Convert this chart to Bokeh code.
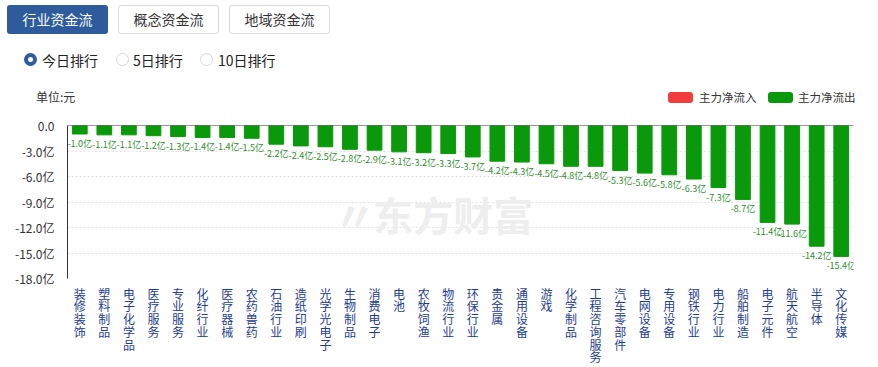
from bokeh.plotting import figure
from bokeh.models import Div, Range1d, FixedTicker, Span, Label, ColumnDataSource
from bokeh.layouts import column
from bokeh.embed import file_html
from bokeh.resources import INLINE
from bokeh.core.properties import value

# ---- data ----
industries = ["装修装饰", "塑料制品", "电子化学品", "医疗服务", "专业服务", "化纤行业",
              "医疗器械", "农药兽药", "石油行业", "造纸印刷", "光学光电子", "生物制品",
              "消费电子", "电池", "农牧饲渔", "物流行业", "环保行业", "贵金属",
              "通用设备", "游戏", "化学制品", "工程咨询服务", "汽车零部件", "电网设备",
              "专用设备", "钢铁行业", "电力行业", "船舶制造", "电子元件", "航天航空",
              "半导体", "文化传媒"]
net_flow_yi = [-1.0, -1.1, -1.1, -1.2, -1.3, -1.4, -1.4, -1.5, -2.2, -2.4, -2.5, -2.8,
               -2.9, -3.1, -3.2, -3.3, -3.7, -4.2, -4.3, -4.5, -4.8, -4.8, -5.3, -5.6,
               -5.8, -6.3, -7.3, -8.7, -11.4, -11.6, -14.2, -15.4]
y_ticks = [0, -3, -6, -9, -12, -15, -18]

FONT = "Noto Sans CJK SC"
GREEN = "#0a990a"
RED = "#f23d3d"
BLUE = "#2d5b9b"

# ---- header (tabs, radios, unit, legend) ----
tab = "position:absolute;top:5px;width:101px;height:29px;box-sizing:border-box;border-radius:3px;font-size:14px;text-align:center;"
header_html = f"""
<div style="position:relative;width:870px;height:112px;font-family:'{FONT}',sans-serif;">
  <div style="{tab}left:7px;background:{BLUE};color:#fff;line-height:29px;">行业资金流</div>
  <div style="{tab}left:118px;border:1px solid #d5d8de;color:#333;line-height:27px;">概念资金流</div>
  <div style="{tab}left:229px;border:1px solid #d5d8de;color:#333;line-height:27px;">地域资金流</div>

  <div style="position:absolute;left:24px;top:53px;width:13px;height:13px;box-sizing:border-box;border:4px solid {BLUE};border-radius:50%;background:#fff;"></div>
  <div style="position:absolute;left:42px;top:50px;font-size:14px;line-height:20px;color:#222;">今日排行</div>
  <div style="position:absolute;left:116px;top:53px;width:13px;height:13px;box-sizing:border-box;border:1px solid #d9d9d9;border-radius:50%;background:#fff;"></div>
  <div style="position:absolute;left:133px;top:50px;font-size:14px;line-height:20px;color:#222;">5日排行</div>
  <div style="position:absolute;left:200px;top:53px;width:13px;height:13px;box-sizing:border-box;border:1px solid #d9d9d9;border-radius:50%;background:#fff;"></div>
  <div style="position:absolute;left:218px;top:50px;font-size:14px;line-height:20px;color:#222;">10日排行</div>

  <div style="position:absolute;left:36px;top:89px;font-size:12px;line-height:16px;color:#333;">单位:元</div>

  <div style="position:absolute;left:668px;top:92px;width:25px;height:11px;background:{RED};border-radius:3px;"></div>
  <div style="position:absolute;left:699px;top:89px;font-size:11.5px;line-height:16px;color:#333;">主力净流入</div>
  <div style="position:absolute;left:768px;top:92px;width:25px;height:11px;background:{GREEN};border-radius:3px;"></div>
  <div style="position:absolute;left:798px;top:89px;font-size:11.5px;line-height:16px;color:#333;">主力净流出</div>
</div>
"""
header = Div(text=header_html, width=870, height=112, margin=(0, 0, 0, 0))

# ---- chart ----
n = len(industries)
xs = list(range(n))
labels = [f"{v:.1f}亿" for v in net_flow_yi]
src = ColumnDataSource(dict(x=xs, top=net_flow_yi, lbl=labels))

p = figure(frame_width=786, frame_height=153, output_backend="svg", toolbar_location=None,
           x_range=Range1d(-0.5, n - 0.5), y_range=Range1d(-18, 0),
           min_border_left=67, min_border_right=20, min_border_top=13, min_border_bottom=86)
p.outline_line_color = None
p.background_fill_color = "white"

# watermark
p.add_layout(Label(x=(n - 1) / 2 - 0.3, y=-10.4, text="东方财富", text_align="center",
                   text_baseline="middle", text_font=FONT, text_font_size="40px",
                   text_font_style="bold", text_color="#eeeeee"))
p.add_layout(Label(x=(n - 1) / 2 - 4.3, y=-10.4, text="〃", text_align="center",
                   text_baseline="middle", text_font=FONT, text_font_size="42px",
                   text_font_style="bold", text_color="#eeeeee"))

p.vbar(x="x", top="top", bottom=0, width=0.6, color=GREEN, source=src)
p.text(x="x", y="top", text="lbl", source=src, text_align="center", text_baseline="top",
       y_offset=3, text_font=value(FONT), text_font_size="9px", text_color="#2f8f2f")

p.add_layout(Span(location=0, dimension="width", line_color="#333333", line_width=1))

# axes
p.xgrid.grid_line_color = None
p.ygrid.grid_line_color = "#e3e3e3"
p.ygrid.grid_line_dash = "2 2"
p.ygrid.ticker = FixedTicker(ticks=y_ticks)

p.yaxis.ticker = FixedTicker(ticks=y_ticks)
p.yaxis.major_label_overrides = {t: ("0.0" if t == 0 else f"{t:.1f}亿") for t in y_ticks}
p.yaxis.axis_line_color = "#333333"
p.yaxis.major_tick_line_color = None
p.yaxis.minor_tick_line_color = None
p.yaxis.major_label_standoff = 7
p.yaxis.major_label_text_font = FONT
p.yaxis.major_label_text_font_size = "12px"
p.yaxis.major_label_text_color = "#333333"

p.xaxis.ticker = FixedTicker(ticks=xs)
p.xaxis.major_label_overrides = {i: "\n".join(name) for i, name in enumerate(industries)}
p.xaxis.axis_line_color = None
p.xaxis.major_tick_line_color = None
p.xaxis.minor_tick_line_color = None
p.xaxis.major_label_standoff = 0
p.xaxis.major_label_text_font = FONT
p.xaxis.major_label_text_font_size = "12px"
p.xaxis.major_label_text_color = "#1e3d8f"
p.xaxis.major_label_text_line_height = 0.75

layout = column(header, p, spacing=0)
open("out.html", "w").write(file_html(layout, INLINE))
